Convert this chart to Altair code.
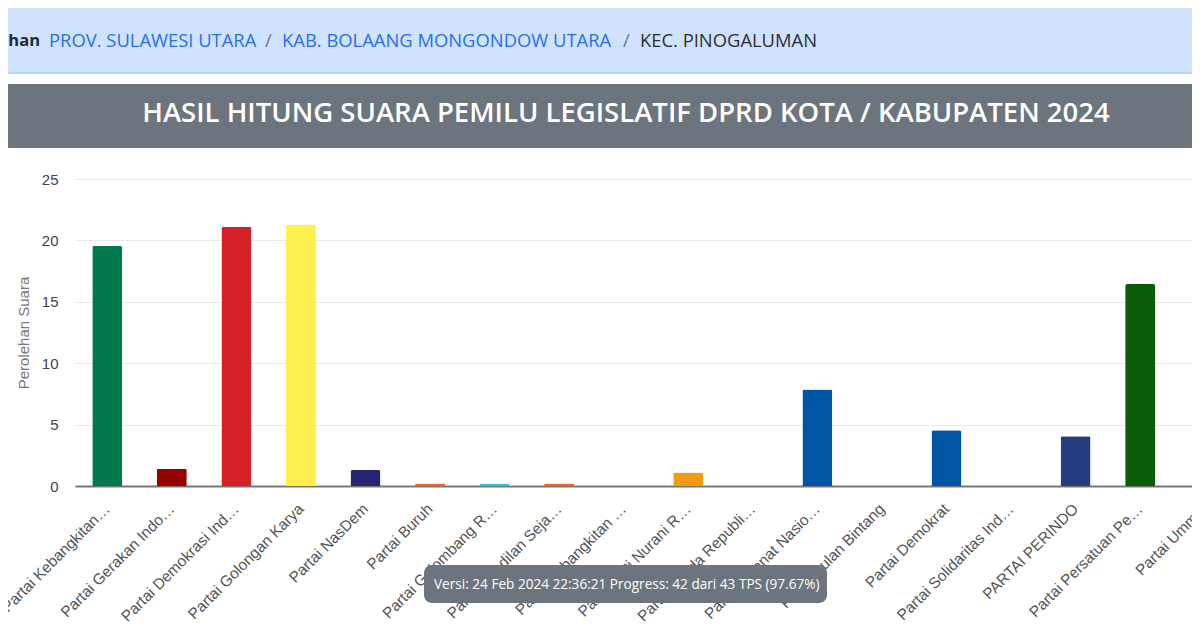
"""Vote count bar chart, with the page header drawn around it."""
import pandas as pd
import altair as alt

parties = [
    "Partai Kebangkitan…", "Partai Gerakan Indo…", "Partai Demokrasi Ind…",
    "Partai Golongan Karya", "Partai NasDem", "Partai Buruh",
    "Partai Gelombang R…", "Partai Keadilan Seja…", "Partai Kebangkitan …",
    "Partai Hati Nurani R…", "Partai Garda Republi…", "Partai Amanat Nasio…",
    "Partai Bulan Bintang", "Partai Demokrat", "Partai Solidaritas Ind…",
    "PARTAI PERINDO", "Partai Persatuan Pe…", "Partai Ummat",
]
votes = [19.55, 1.4, 21.1, 21.3, 1.3, 0.2, 0.2, 0.2, 0, 1.1, 0, 7.85, 0, 4.55, 0, 4.05, 16.45, 0]
colors = [
    "#007a4d", "#990000", "#d62027", "#fff04d", "#23266e", "#f26522",
    "#29c5e6", "#f26522", "#8a1c1c", "#f39c12", "#2d3a80", "#0054a6",
    "#1b7a3d", "#0054a6", "#d6232a", "#253c80", "#0a5c0a", "#1d2c6b",
]
y_ticks = [0, 5, 10, 15, 20, 25]

df = pd.DataFrame({"party": parties, "votes": votes, "color": colors})
one = pd.DataFrame({"a": [0]})

# plot area starts at image (76, 179), so page furniture uses negative offsets
LEFT, TOP = 76, 179


def box(x0, y0, x1, y1, color, **kw):
    return (
        alt.Chart(one)
        .mark_rect(color=color, **kw)
        .encode(
            x=alt.value(x0 - LEFT), x2=alt.value(x1 - LEFT),
            y=alt.value(y0 - TOP), y2=alt.value(y1 - TOP),
        )
    )


def label(text, x, y, color, size, font="Open Sans", weight=400, align="left"):
    return (
        alt.Chart(one)
        .mark_text(
            text=text, color=color, fontSize=size, font=font,
            fontWeight=weight, align=align, baseline="middle",
        )
        .encode(x=alt.value(x - LEFT), y=alt.value(y - TOP))
    )


bars = (
    alt.Chart(df)
    .mark_bar(size=30, cornerRadiusTopLeft=2, cornerRadiusTopRight=2)
    .encode(
        x=alt.X(
            "party:N",
            sort=None,
            scale=alt.Scale(range=[-1, 1161]),
            axis=alt.Axis(
                title=None, labelAngle=-45, labelAlign="right", labelBaseline="middle",
                labelFont="Liberation Sans", labelFontSize=15.4, labelColor="#555555",
                labelLimit=300, labelOverlap=False, labelPadding=20, ticks=False,
                domainColor="#777777", domainWidth=2,
            ),
        ),
        y=alt.Y(
            "votes:Q",
            scale=alt.Scale(domain=[0, 25]),
            axis=alt.Axis(
                values=y_ticks, title="Perolehan Suara", titleFont="Liberation Sans",
                titleFontSize=15, titleFontWeight="normal", titleColor="#777777",
                titlePadding=10, labelFont="Liberation Sans", labelFontSize=15,
                labelColor="#444444", labelPadding=18, ticks=False, domain=False,
                gridColor="#e9e9e9", gridWidth=1,
            ),
        ),
        color=alt.Color("color:N", scale=None),
    )
)

chart = (
    alt.layer(
        bars,
        box(0, 8, 1200, 73, "#cfe2ff"),
        box(0, 72, 1200, 74, "#b6d4fe"),
        box(0, 84, 1200, 148, "#6c757d"),
        label("Pemilihan", 40, 41, "#1c2a3a", 16.5, weight=700, align="right"),
        label("PROV. SULAWESI UTARA", 49, 41, "#2b6fe8", 18.4),
        label("/", 265, 41, "#6c757d", 18.4),
        label("KAB. BOLAANG MONGONDOW UTARA", 282, 41, "#2b6fe8", 18.4),
        label("/", 623, 41, "#6c757d", 18.4),
        label("KEC. PINOGALUMAN", 640, 41, "#2b3035", 18.4),
        label(
            "HASIL HITUNG SUARA PEMILU LEGISLATIF DPRD KOTA / KABUPATEN 2024",
            626, 114, "#ffffff", 27.5, weight=600, align="center",
        ),
        box(424, 565, 827, 603, "#6c757d", cornerRadius=8),
        label(
            "Versi: 24 Feb 2024 22:36:21 Progress: 42 dari 43 TPS (97.67%)",
            434, 585, "#ffffff", 13.6,
        ),
    )
    .properties(
        width=1116,
        height=307,
        padding={"left": 68, "top": 171, "right": 0, "bottom": 136},
        autosize=alt.AutoSizeParams(type="none"),
    )
    .configure_view(stroke=None)
)

chart.save("out.html", embed_options={"renderer": "svg", "actions": False})
